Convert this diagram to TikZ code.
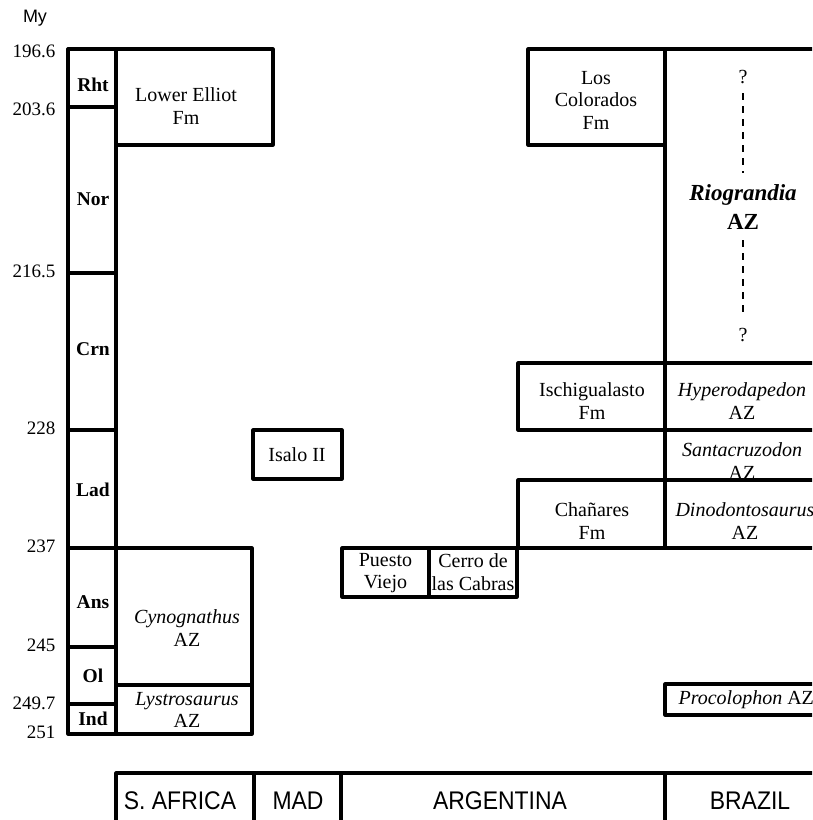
\documentclass[tikz,border=0pt]{standalone}
\usepackage{fontspec}
\setmainfont{Liberation Serif}
\setsansfont{Liberation Sans}
\begin{document}
\begin{tikzpicture}[x=1pt,y=-1pt, line width=3.2pt, line join=round,
  txt/.style={font=\fontsize{20}{22.5}\selectfont, align=center, inner sep=0pt},
  per/.style={font=\fontsize{19.5}{22}\selectfont\bfseries, inner sep=0pt},
  age/.style={font=\fontsize{19}{22}\selectfont, anchor=east, inner sep=0pt},
  ctry/.style={font=\sffamily\fontsize{25.5}{28}\selectfont, xscale=0.9, inner sep=0pt},
  rio/.style={font=\fontsize{23}{26}\selectfont\bfseries\itshape, inner sep=0pt},
  dashln/.style={line width=1.8pt, dash pattern=on 7pt off 6pt}]
\clip (0,0) rectangle (812,820);
% time column
\draw (68,49) rectangle (116,734);
\foreach \yy in {107,273,430,548,647,704} \draw (68,\yy) -- (116,\yy);
% South Africa
\draw (116,49) rectangle (273,145);
\draw (116,548) rectangle (252,734);
\draw (116,685) -- (252,685);
% Madagascar
\draw (253,430) rectangle (342,479);
% Argentina
\draw (342,548) rectangle (517,597);
\draw (429,548) -- (429,597);
\draw (528,49) rectangle (665,145);
\draw (518,363) rectangle (665,430);
\draw (518,480) rectangle (665,548);
% Brazil
\draw (665,49) -- (840,49);
\draw (665,49) -- (665,548);
\foreach \yy in {363,430,480,548} \draw (665,\yy) -- (840,\yy);
\draw (665,684) rectangle (840,715);
% bottom row
\draw (116,773) rectangle (840,840);
\foreach \xx in {254,341,665} \draw (\xx,773) -- (\xx,840);

% labels
\node[font=\sffamily\fontsize{18}{20}\selectfont, inner sep=0pt] (my) at (35,18) {My};
\node[age] (a1) at (57,51) {196.6};
\node[age] (a2) at (57,109) {203.6};
\node[age] (a3) at (57,271) {216.5};
\node[age] (a4) at (57,428) {228};
\node[age] (a5) at (57,546) {237};
\node[age] (a6) at (57,645) {245};
\node[age] (a7) at (57,703) {249.7};
\node[age] (a8) at (57,732) {251};

\node[per] (p1) at (93,85) {Rht};
\node[per] (p2) at (93,199) {Nor};
\node[per] (p3) at (93,349) {Crn};
\node[per] (p4) at (93,490) {Lad};
\node[per] (p5) at (93,602) {Ans};
\node[per] (p6) at (93,676) {Ol};
\node[per] (p7) at (93,719) {Ind};

\node[txt] (le) at (186,106) {Lower Elliot\\Fm};
\node[txt] (cy) at (187,628) {\itshape Cynognathus\\AZ};
\node[txt] (ly) at (187,710) {\itshape Lystrosaurus\\AZ};
\node[txt] (is) at (297,455) {Isalo II};
\node[txt] (pv) at (385.5,573) {Puesto\\Viejo};
\node[txt] (cc) at (473,572) {Cerro de\\las Cabras};
\node[txt] (lc) at (596,100) {Los\\Colorados\\Fm};
\node[txt] (ig) at (592,401) {Ischigualasto\\Fm};
\node[txt] (ch) at (592,521) {Chañares\\Fm};
\node[txt] (hy) at (742,401) {\itshape Hyperodapedon\\AZ};
\node[txt] (sa) at (742,461) {\itshape Santacruzodon\\AZ};
\node[txt] (di) at (745,521) {\itshape Dinodontosaurus\\AZ};
\node[txt, anchor=west] (pr) at (677,700) {\itshape Procolophon\upshape{} AZ};

\node[txt] (q1) at (743,77) {?};
\node[rio] (ri) at (743,195) {Riograndia};
\node[rio, font=\fontsize{23}{26}\selectfont\bfseries] (az) at (743,222) {AZ};
\node[txt] (q2) at (743,335) {?};
\draw[dashln] (q1.south) ++(0,8) coordinate (d1) -- (743,173) coordinate (d2);
\draw[dashln] (743,240) coordinate (d3) -- (743,318) coordinate (d4);

\node[ctry] (sf) at (180,801) {S. AFRICA};
\node[ctry] (md) at (298,801) {MAD};
\node[ctry] (ar) at (500,801) {ARGENTINA};
\node[ctry] (br) at (750,801) {BRAZIL};
\end{tikzpicture}
\end{document}
